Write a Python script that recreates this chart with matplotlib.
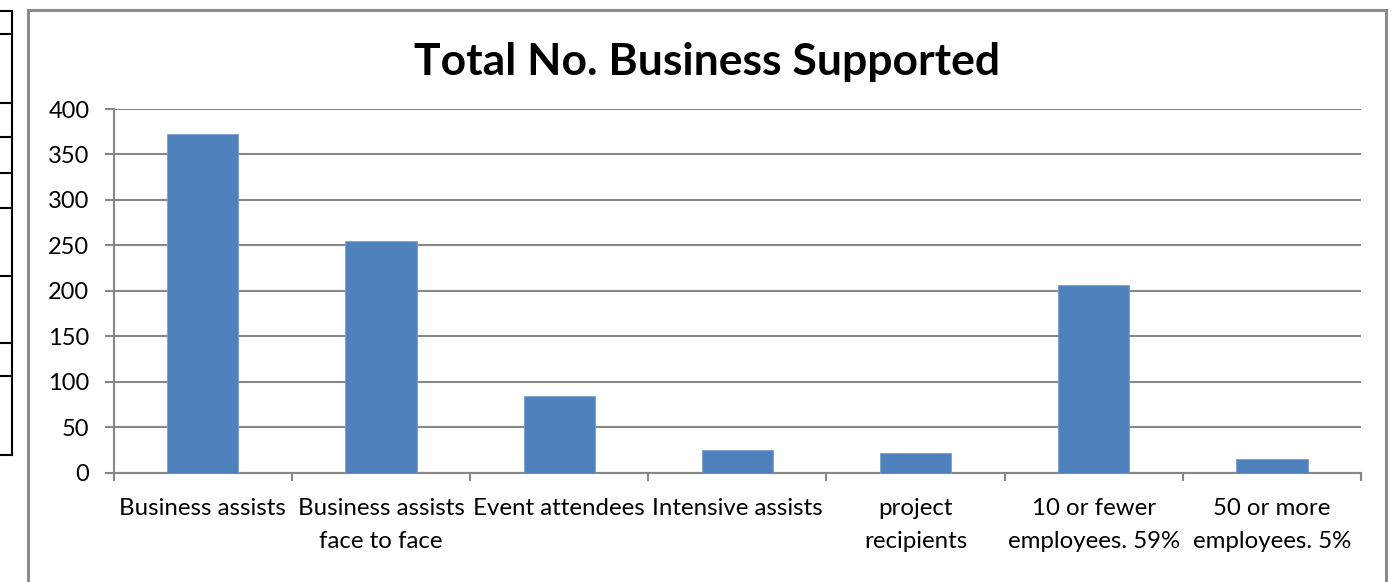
import matplotlib
matplotlib.use("Agg")
import matplotlib.pyplot as plt
from matplotlib.patches import Rectangle
from matplotlib.lines import Line2D
import numpy as np

categories = ["Business assists", "Business assists\nface to face", "Event attendees",
              "Intensive assists", "project\nrecipients", "10 or fewer\nemployees. 59%",
              "50 or more\nemployees. 5%"]
values = [372, 255, 84, 25, 22, 206, 15]
yticks = [0, 50, 100, 150, 200, 250, 300, 350, 400]
title = "Total No. Business Supported"

plt.rcParams['font.family'] = ['Lato', 'DejaVu Sans']

W, H = 1395, 582
fig = plt.figure(figsize=(W / 100, H / 100), dpi=100)
fig.patch.set_facecolor("white")

def fx(px):
    return px / W

def fy(py):
    return 1 - py / H

# left spreadsheet table fragment
for yy in [11, 34, 103, 137, 173, 208, 276, 343, 376, 455]:
    fig.add_artist(Line2D([0, fx(12)], [fy(yy), fy(yy)], color="black", lw=1.5))
fig.add_artist(Line2D([fx(12), fx(12)], [fy(11), fy(455)], color="black", lw=1.5))

# chart frame
fig.add_artist(Rectangle((fx(28), fy(600)), fx(1386) - fx(28), fy(10) - fy(600),
                         fill=False, edgecolor="#8c8c8c", lw=2.2))

ax_left, ax_right, ax_top, ax_bot = 113.7, 1361, 109, 472.7
ax = fig.add_axes([fx(ax_left), fy(ax_bot), fx(ax_right) - fx(ax_left), fy(ax_top) - fy(ax_bot)])

x = np.arange(len(categories))
ax.bar(x, values, width=0.4, color="#4F81BD", edgecolor="#7a9fd0", linewidth=0.6, zorder=3)

ax.set_xlim(-0.5, len(categories) - 0.5)
ax.set_ylim(0, 400)
ax.set_yticks(yticks)
ax.set_yticklabels([str(v) for v in yticks], fontsize=17)
ax.yaxis.grid(True, color="#878787", lw=1.5, zorder=0)
ax.set_axisbelow(True)

ax.set_xticks(x)
ax.set_xticklabels(categories, fontsize=17.3, linespacing=1.72)
ax.set_xticks(np.arange(len(categories) + 1) - 0.5, minor=True)
ax.tick_params(axis="x", which="major", length=0, pad=18)
ax.tick_params(axis="x", which="minor", length=6, width=1.5, color="#878787", direction="out")
ax.tick_params(axis="y", length=6.5, width=1.5, color="#878787", direction="out", pad=11)

for s in ["top", "right"]:
    ax.spines[s].set_visible(False)
for s in ["left", "bottom"]:
    ax.spines[s].set_color("#878787")
    ax.spines[s].set_linewidth(1.5)

fig.text(fx(707), fy(62), title, ha="center", va="center", fontsize=32, fontweight="bold")

fig.savefig("out.png", dpi=100, facecolor="white")
